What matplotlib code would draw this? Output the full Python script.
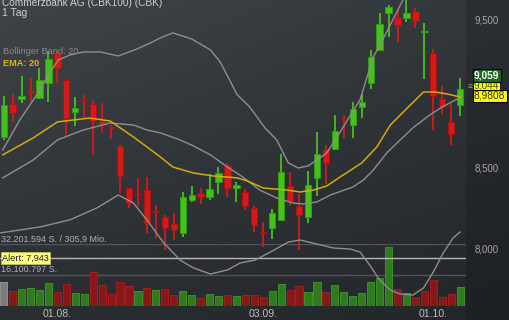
import numpy as np
import matplotlib
matplotlib.use('Agg')
import matplotlib.pyplot as plt
from matplotlib.ticker import FixedLocator, NullLocator

plt.rcParams['font.family'] = ['Liberation Sans', 'DejaVu Sans']

# daily candles (EUR), 52 trading days
opens = [8.700, 8.919, 8.953, 9.006, 8.960, 9.061, 9.267, 9.081, 8.865, 8.950,
         8.919, 8.805, 8.763, 8.642, 8.373, 8.333, 8.360, 8.227, 8.193, 8.150,
         8.095, 8.298, 8.341, 8.317, 8.411, 8.519, 8.373, 8.348, 8.248, 8.098,
         8.125, 8.175, 8.386, 8.261, 8.193, 8.437, 8.623, 8.623, 8.829, 8.779,
         8.898, 9.061, 9.288, 9.550, 9.521, 9.514, 9.564, 9.411, 9.267, 8.953,
         8.799, 8.912]
closes = [8.912, 8.858, 8.973, 8.993, 9.081, 9.225, 9.163, 8.825, 8.892, 8.944,
          8.805, 8.779, 8.756, 8.449, 8.279, 8.326, 8.157, 8.221, 8.125, 8.113,
          8.317, 8.329, 8.317, 8.366, 8.468, 8.373, 8.392, 8.261, 8.144, 8.092,
          8.218, 8.474, 8.292, 8.206, 8.392, 8.590, 8.532, 8.740, 8.822, 8.885,
          8.932, 9.239, 9.472, 9.593, 9.465, 9.550, 9.493, 9.418, 8.973, 8.898,
          8.720, 9.020]
highs = [8.973, 8.986, 9.108, 9.095, 9.163, 9.281, 9.281, 9.081, 8.966, 8.980,
         8.946, 8.926, 8.779, 8.645, 8.376, 8.437, 8.443, 8.267, 8.206, 8.218,
         8.348, 8.386, 8.373, 8.462, 8.506, 8.532, 8.411, 8.366, 8.261, 8.163,
         8.242, 8.590, 8.474, 8.335, 8.481, 8.733, 8.649, 8.845, 8.845, 8.932,
         8.986, 9.288, 9.550, 9.607, 9.578, 9.650, 9.585, 9.479, 9.295, 9.040,
         8.919, 9.095]
lows = [8.681, 8.799, 8.926, 8.932, 8.953, 8.932, 9.061, 8.700, 8.772, 8.825,
        8.584, 8.727, 8.688, 8.341, 8.248, 8.261, 8.095, 8.064, 7.992, 8.052,
        8.070, 8.286, 8.273, 8.298, 8.335, 8.317, 8.286, 8.236, 8.101, 8.010,
        8.058, 8.169, 8.261, 7.992, 8.157, 8.323, 8.398, 8.616, 8.694, 8.694,
        8.825, 9.020, 9.288, 9.379, 9.344, 9.486, 9.443, 9.088, 8.746, 8.852,
        8.649, 8.838]
# volume in Mio. shares
volumes = [12.2, 7.5, 8.7, 9.2, 8.2, 11.7, 6.9, 11.2, 6.4, 6.0,
           17.3, 10.7, 6.0, 12.1, 10.1, 7.5, 9.1, 8.2, 8.7, 5.4,
           7.4, 5.7, 3.7, 6.0, 5.2, 5.4, 5.2, 5.4, 5.7, 4.2,
           7.5, 11.4, 7.9, 10.2, 7.2, 12.1, 7.0, 10.6, 6.9, 4.9,
           6.4, 12.1, 14.2, 30.7, 8.7, 6.4, 4.7, 7.5, 13.1, 4.7,
           5.9, 9.9]

# indicator lines (position in days, price)
bb_up_x = [-0.1, 1.8, 3.7, 5.2, 6.1, 7.4, 8.9, 10.8, 12.8, 14.9, 16.4, 17.5, 18.9,
           21.0, 23.1, 24.2, 26.1, 27.5, 29.2, 30.5, 31.8, 32.9, 34.0, 35.0, 36.1,
           37.6, 39.8, 41.3, 42.8, 44.6, 46.5, 48.8, 51.2]
bb_up = [8.616, 8.812, 8.980, 9.135, 9.218, 9.253, 9.274, 9.274, 9.246, 9.295, 9.337,
         9.372, 9.408, 9.365, 9.288, 9.204, 8.980, 8.898, 8.759, 8.681, 8.532, 8.500,
         8.513, 8.551, 8.597, 8.733, 8.946, 9.239, 9.415, 9.643, 9.830, 9.900, 9.940]
bb_mid_x = [-0.1, 3.3, 6.0, 8.9, 11.9, 14.5, 16.0, 17.5, 19.7, 21.2, 23.1, 25.0, 26.7,
            28.6, 30.5, 32.3, 33.4, 35.0, 36.5, 39.0, 40.2, 41.3, 42.8, 44.3, 45.7,
            47.3, 48.8, 50.7]
bb_mid = [8.437, 8.551, 8.681, 8.746, 8.792, 8.779, 8.746, 8.727, 8.681, 8.642, 8.584,
          8.506, 8.443, 8.360, 8.311, 8.279, 8.273, 8.286, 8.329, 8.379, 8.424, 8.487,
          8.597, 8.681, 8.759, 8.832, 8.892, 8.953]
bb_low_x = [-0.4, 4.1, 7.4, 10.4, 12.8, 14.5, 16.0, 17.8, 19.7, 21.2, 23.1, 25.0, 26.4,
            28.1, 29.8, 31.8, 33.1, 35.0, 36.8, 38.7, 39.8, 40.9, 42.0, 43.2, 44.3,
            45.7, 46.9, 48.0, 49.1, 50.2, 51.0]
bb_low = [8.095, 8.132, 8.175, 8.248, 8.329, 8.279, 8.175, 8.040, 7.932, 7.885, 7.849,
          7.873, 7.914, 7.932, 7.980, 8.040, 8.052, 8.028, 8.004, 7.998, 7.980, 7.902,
          7.814, 7.755, 7.732, 7.726, 7.767, 7.861, 7.974, 8.064, 8.101]
ema_x = [-0.1, 3.3, 6.0, 9.6, 11.9, 14.5, 17.5, 18.9, 21.2, 23.4, 26.1, 27.2, 29.0,
         31.7, 33.1, 34.6, 36.1, 37.6, 40.0, 41.7, 43.2, 45.1, 46.9, 48.2, 49.5, 51.0]
ema = [8.584, 8.694, 8.799, 8.825, 8.805, 8.700, 8.571, 8.506, 8.468, 8.449, 8.437,
       8.418, 8.373, 8.360, 8.348, 8.360, 8.386, 8.443, 8.532, 8.636, 8.779, 8.892,
       8.999, 8.999, 8.986, 8.966]

alert_level = 7.943
vol_grid = [16.100797, 32.201594]
date_pos = [6, 29, 48]
date_labels = ['01.08.', '03.09.', '01.10.']
price_ticks = [8.0, 8.5, 9.5]
price_labels = ['8,000', '8,500', '9,500']

W, H = 510, 320
fig = plt.figure(figsize=(W / 100, H / 100), dpi=100)

def fx(x):
    return x / W

def fy(y):
    return 1 - y / H

# background gradient
ax_bg = fig.add_axes([0, 0, 1, 1])
ax_bg.set_zorder(0)
yy, xx = np.mgrid[0:H, 0:W]
t = (yy / H)[..., None]
s = (xx / W)[..., None]
c_tl = np.array([63, 68, 72]) / 255
c_tr = np.array([50, 55, 59]) / 255
c_bl = np.array([42, 46, 50]) / 255
c_br = np.array([34, 37, 41]) / 255
img = c_tl * (1 - t) * (1 - s) + c_tr * (1 - t) * s + c_bl * t * (1 - s) + c_br * t * s
img[:, 466:, :] *= 0.85
ax_bg.imshow(img, extent=[0, W, H, 0], aspect='auto')
ax_bg.axis('off')

n = len(closes)
idx = np.arange(n)
xlim = (-0.41, 51.65)

# volume panel
axv = fig.add_axes([0, fy(305.5), fx(466), 61.5 / H])
axv.set_zorder(1)
axv.patch.set_visible(False)
vol_col = ['#7c7c7c']
vol_edge = ['#9a9a9a']
for i in range(1, n):
    if closes[i] >= closes[i - 1]:
        vol_col.append('#2f7a1d')
        vol_edge.append('#3f9a28')
    else:
        vol_col.append('#8a1717')
        vol_edge.append('#a82020')
axv.bar(idx, volumes, width=0.8, color=vol_col, edgecolor=vol_edge, linewidth=0.6)
for g in vol_grid:
    axv.axhline(g, color='#50555a', lw=1.0, zorder=0)
axv.set_xlim(*xlim)
axv.set_ylim(0, vol_grid[1])
axv.axis('off')

# price panel
ax = fig.add_axes([0, fy(307), fx(466), 307 / H])
ax.set_zorder(2)
ax.patch.set_visible(False)
ax.set_yscale('log')
ax.set_ylim(7.657, 9.643)
ax.set_xlim(*xlim)
for sp in ax.spines.values():
    sp.set_visible(False)

up_c, up_e = '#45c11b', '#33a011'
dn_c, dn_e = '#d51919', '#b01010'
cols = [up_c if c >= o else dn_c for o, c in zip(opens, closes)]
edges = [up_e if c >= o else dn_e for o, c in zip(opens, closes)]
ax.vlines(idx, lows, highs, colors=cols, lw=1.3, zorder=3)
bottoms = [min(o, c) for o, c in zip(opens, closes)]
heights = [max(abs(c - o), 0.006) for o, c in zip(opens, closes)]
ax.bar(idx, heights, bottom=bottoms, width=0.7, color=cols, edgecolor=edges,
       linewidth=0.6, zorder=4)

ax.plot(bb_up_x, bb_up, color='#8e8e8e', lw=1.0, zorder=5)
ax.plot(bb_mid_x, bb_mid, color='#8e8e8e', lw=1.0, zorder=5)
ax.plot(bb_low_x, bb_low, color='#8e8e8e', lw=1.0, zorder=5)
ax.plot(ema_x, ema, color='#cfae0c', lw=1.1, zorder=6)
ax.axhline(alert_level, color='#b8b8b8', lw=1.0, zorder=2)

ax.yaxis.tick_right()
ax.yaxis.set_major_locator(FixedLocator(price_ticks))
ax.yaxis.set_minor_locator(NullLocator())
ax.set_yticklabels(price_labels)
ax.tick_params(axis='y', length=0, pad=6, labelsize=7, labelcolor='#a4a4a4')
ax.set_xticks(date_pos)
ax.set_xticklabels(date_labels)
ax.xaxis.set_minor_locator(NullLocator())
ax.tick_params(axis='x', length=0, pad=1.5, labelsize=7.6, labelcolor='#bdbdbd')

# texts
fig.text(fx(2), fy(3.5), 'Commerzbank AG (CBK100) (CBK)', color='#cfcfcf', fontsize=7.3,
         va='center', ha='left')
fig.text(fx(2), fy(13), '1 Tag', color='#cfcfcf', fontsize=7.5, va='center', ha='left')
fig.text(fx(3), fy(52), 'Bollinger Band: 20', color='#8a8a8a', fontsize=6.6,
         va='center', ha='left', zorder=10)
fig.text(fx(3), fy(64), 'EMA: 20', color='#d8b80c', fontsize=6.6, fontweight='bold',
         va='center', ha='left', zorder=10)
fig.text(fx(1), fy(239.5), '32.201.594 S. / 305,9 Mio.', color='#b0b0b0', fontsize=6.5,
         va='center', ha='left', zorder=10)
fig.text(fx(1), fy(270), '16.100.797 S.', color='#b0b0b0', fontsize=6.5,
         va='center', ha='left', zorder=10)
fig.text(fx(2.5), fy(258), 'Alert: 7,943', color='#222222', fontsize=6.6, va='center',
         ha='left', zorder=10,
         bbox=dict(boxstyle='square,pad=0.12', fc='#ffff80', ec='#c8c860', lw=0.5))

fig.text(fx(474), fy(75.5), '9,059', color='white', fontsize=7.3, fontweight='bold',
         va='center', ha='left', zorder=12,
         bbox=dict(boxstyle='square,pad=0.12', fc='#1c6a1c', ec='black', lw=0.8))
fig.text(fx(474), fy(85), '9,044', color='#3a5a10', fontsize=7.3, va='center',
         ha='left', zorder=11,
         bbox=dict(boxstyle='square,pad=0.1', fc='#ffff00', ec='black', lw=0.6))
fig.text(fx(474), fy(96), '8,9808', color='#333300', fontsize=7.3, va='center',
         ha='left', zorder=12,
         bbox=dict(boxstyle='square,pad=0.12', fc='#ffff00', ec='black', lw=0.8))
fig.text(fx(468), fy(87), '\u2261', color='#9a9a9a', fontsize=6, va='center', ha='left')

fig.savefig('out.png', dpi=100)
